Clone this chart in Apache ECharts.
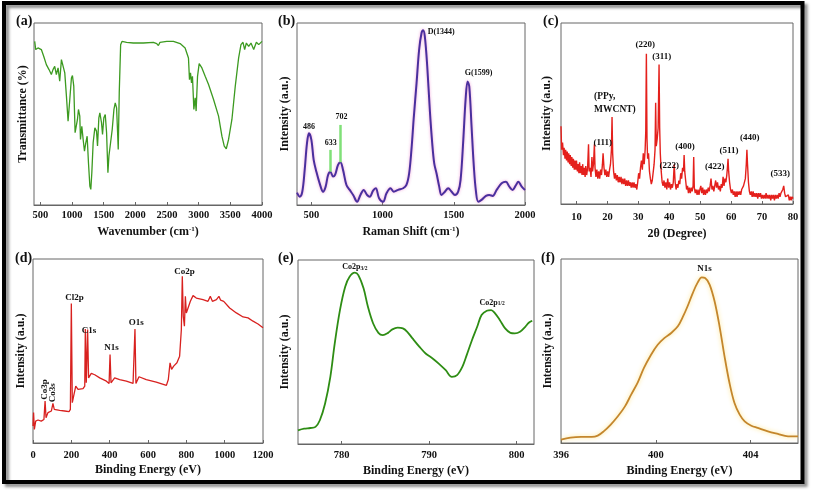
<!DOCTYPE html>
<html><head><meta charset="utf-8">
<script src="https://cdn.jsdelivr.net/npm/echarts@6/dist/echarts.min.js"></script>
<style>html,body{margin:0;padding:0;background:#fff}#c{width:813px;height:493px}</style>
</head><body><div id="c"></div>
<script>
// (a) FTIR
const ftirWave = [411,427,463,516,553,595,637,674,700,727,753,780,806,833,859,886,912,938,965,991,1007,1028,1049,1070,1086,1102,1123,1134,1155,1176,1197,1218,1239,1260,1282,1297,1313,1334,1361,1387,1403,1424,1440,1466,1482,1503,1525,1546,1567,1583,1609,1635,1662,1683,1704,1720,1730,1746,1768,1789,1862,1968,2126,2285,2338,2364,2390,2496,2602,2707,2786,2839,2855,2871,2887,2902,2924,2945,2960,2982,3008,3051,3103,3156,3235,3314,3367,3404,3436,3472,3525,3578,3631,3668,3700,3726,3753,3790,3826,3869,3911,3948,4000];
const ftirT = [89.9,85.4,86.3,85.4,81.7,77.1,74.4,71.7,74.4,76.2,71.7,75.3,68.0,79.9,79.0,72.6,59.8,46.1,58.0,69.8,71.1,65.3,39.7,39.7,47.0,52.5,48.8,36.0,43.3,36.0,29.6,34.2,37.8,23.2,10.4,8.6,17.7,34.2,42.4,40.6,32.4,47.9,50.6,45.2,38.8,47.9,49.7,39.7,17.7,26.9,34.2,41.5,52.5,56.1,53.4,39.7,30.5,61.6,88.1,89.9,89.4,89.0,89.0,89.4,88.7,87.6,89.4,89.9,89.9,88.7,86.3,80.8,68.9,72.6,67.1,70.7,52.5,58.9,51.6,70.7,77.7,75.3,70.7,66.2,58.0,48.8,37.8,32.4,30.9,36.0,47.0,65.3,80.8,88.1,89.4,85.4,89.0,87.2,89.0,85.4,89.4,88.1,89.9];
const ftirTicks = [500,1000,1500,2000,2500,3000,3500,4000];

// (b) Raman
const ramanShift = [400,419,437,454,470,484,501,517,536,559,583,601,618,634,653,667,688,705,723,747,770,794,822,845,868,892,911,934,953,976,1004,1028,1056,1079,1110,1145,1168,1187,1203,1220,1239,1257,1274,1285,1297,1314,1332,1349,1363,1379,1398,1414,1438,1461,1485,1508,1531,1548,1567,1583,1597,1609,1625,1641,1656,1672,1695,1726,1749,1773,1801,1836,1866,1890,1913,1937,1953,1977,2000];
const ramanI = [6.8,4.6,7.3,19.3,33.9,39.4,35.8,24.8,18.3,11.9,7.3,10.1,16.5,18.3,15.6,16.5,22.0,23.5,19.3,11.0,8.3,5.5,1.8,5.5,8.3,5.5,4.6,7.9,9.2,3.7,1.8,6.4,9.2,7.3,8.3,9.2,11.0,17.4,30.3,48.6,67.0,85.3,94.5,96.0,92.7,76.1,52.3,33.9,22.9,17.4,10.1,5.5,7.3,9.2,7.3,5.5,7.3,13.8,35.8,57.8,67.9,65.1,43.1,21.1,7.3,1.8,2.8,5.0,5.5,5.0,8.3,11.9,12.8,10.1,8.3,11.0,12.8,10.1,8.3];
const ramanTicks = [500,1000,1500,2000];
const ramanLabels = [[484,43.1,'486'],[636.6,33.9,'633'],[711.5,48.3,'702'],[1412,95,'D(1344)'],[1674,72.8,'G(1599)']];
const ramanMarks = [[636.6,18.3,30.3],[707,23.5,44]];

// (c) XRD
const xrdAngle = [5.0,5.2,5.5,5.8,6.0,6.3,6.5,6.8,7.0,7.3,7.5,7.8,8.0,8.3,8.5,8.8,9.0,9.3,9.5,9.8,10.0,10.3,10.5,10.8,11.0,11.3,11.5,11.8,12.0,12.3,12.5,12.8,13.0,13.3,13.6,13.9,14.1,14.4,14.7,15.0,15.2,15.5,15.8,16.0,16.3,16.6,16.9,17.2,17.5,17.8,18.1,18.4,18.6,18.9,19.2,19.5,19.8,20.1,20.4,20.7,21.0,21.3,21.5,21.7,22.0,22.3,22.6,22.9,23.2,23.5,23.8,24.1,24.4,24.7,25.0,25.3,25.6,25.9,26.2,26.5,26.8,27.1,27.4,27.7,28.0,28.3,28.6,28.9,29.2,29.5,29.8,30.1,30.4,30.7,31.0,31.3,31.6,31.9,32.2,32.4,32.6,32.8,33.0,33.3,33.6,33.9,34.2,34.5,34.8,35.1,35.4,35.6,35.8,36.1,36.4,36.7,36.9,37.1,37.4,37.7,38.0,38.3,38.6,38.9,39.2,39.5,39.8,40.1,40.4,40.7,41.0,41.3,41.6,41.9,42.2,42.5,42.8,43.1,43.4,43.7,44.0,44.3,44.6,44.8,45.0,45.3,45.6,45.9,46.2,46.5,46.8,47.1,47.4,47.7,47.9,48.1,48.4,48.7,49.0,49.3,49.6,49.9,50.2,50.5,50.8,51.1,51.4,51.7,52.0,52.3,52.6,52.9,53.2,53.5,53.8,54.1,54.4,54.7,55.0,55.3,55.6,55.9,56.2,56.5,56.8,57.1,57.4,57.7,58.0,58.3,58.6,58.8,59.0,59.2,59.5,59.8,60.1,60.4,60.7,61.0,61.3,61.6,61.9,62.2,62.5,62.8,63.1,63.4,63.7,64.0,64.3,64.6,64.9,65.1,65.3,65.6,65.9,66.2,66.5,66.8,67.1,67.4,67.7,68.0,68.3,68.6,68.9,69.2,69.5,69.8,70.1,70.4,70.7,71.0,71.3,71.6,71.9,72.2,72.5,72.8,73.1,73.4,73.7,74.0,74.3,74.6,74.9,75.2,75.5,75.8,76.1,76.4,76.7,77.0,77.3,77.6,77.9,78.2,78.5,78.8,79.1,79.4,79.7,80.0];
const xrdI = [43,30,34,27,31,25,30,24,29,23,28,22,27,21,26,20,25,19,24,19,24,18,22,17,23,17,21,16,22,16,20,15,21,16,20,33,18,20,15,26,18,22,33,20,15,19,14,18,14,19,16,22,28,20,16,19,15,18,15,19,22,30,48,28,18,14,17,13,16,12,15,12,15,11,14,11,14,10,13,10,13,10,12,9,12,9,12,9,11,8,12,17,14,20,24,19,28,22,30,40,83,36,25,28,18,14,11,13,12,22,30,56,32,36,42,77,42,28,18,12,10,13,9,12,8,14,9,12,8,11,9,12,22,12,8,11,9,13,11,17,14,20,18,27,18,13,8,10,6,9,6,9,7,10,26,9,6,8,5,8,5,8,10,6,9,5,8,5,8,6,9,7,10,14,8,10,7,10,13,9,12,8,10,7,11,9,15,10,14,12,16,20,25,18,12,8,6,8,5,7,4,7,4,7,5,7,5,8,7,10,9,14,22,30,22,12,7,5,7,4,7,4,6,4,6,3,6,4,6,3,5,3,5,3,6,3,5,3,5,2,5,3,5,2,5,3,5,3,6,4,6,5,8,10,6,4,5,3,5,2,4,2,4,3];
const xrdTicks = [10,20,30,40,50,60,70,80];
const xrdLabels = [[32.2,88.0,'(220)'],[37.6,81.2,'(311)'],[18.5,33.9,'(111)'],[45.1,31.7,'(400)'],[40.0,21.2,'(222)'],[54.7,20.7,'(422)'],[59.3,29.3,'(511)'],[66.0,36.9,'(440)'],[75.9,17.0,'(533)']];
const xrdLeftLabel = [15.7,55.7,'(PPy,\nMWCNT)'];

// (d) XPS survey
const surveyBE = [0,3,7,14,26,43,57,63,68,78,96,104,111,139,165,188,195,200,205,212,223,235,261,270,273,278,285,290,304,322,348,383,397,402,407,426,452,487,522,529,532,537,553,591,643,696,706,715,723,734,751,765,774,779,784,790,795,800,809,821,835,852,887,913,925,936,957,970,979,995,1026,1061,1096,1122,1148,1174,1200];
const surveyI = [9.2,16.5,7.4,11.9,12.5,11.9,12.8,22.8,13.7,16.5,17.4,21.5,18.3,17.7,17.4,17.0,18.3,75.8,21.9,25.5,30.9,29.1,29.5,30.9,62.0,32.7,61.7,35.4,37.8,37.1,35.4,33.6,32.4,48.1,32.7,35.4,34.5,33.6,32.4,31.8,62.0,32.4,36.0,34.5,33.1,31.3,34.5,43.6,40.0,41.8,43.6,47.2,61.7,90.6,68.9,63.5,79.7,70.7,73.4,77.0,80.1,78.8,77.9,77.0,79.7,77.0,77.9,79.7,77.6,77.0,73.4,70.7,68.5,68.0,66.2,64.7,62.6];
const surveyTicks = [0,200,400,600,800,1000,1200];
const surveyLabels = [[217,78.8,'Cl2p'],[292,60.8,'C1s'],[409,51.7,'N1s'],[539,65.3,'O1s'],[791,93.3,'Co2p']];
const surveyVertLabels = [[59,29.1,'Co3p'],[104,27.3,'Co3s']];

// (e) Co2p
const coBE = [775.0,775.7,776.4,777.0,777.5,778.1,778.7,779.2,779.8,780.4,780.9,781.5,781.9,782.5,783.0,783.6,784.2,784.7,785.3,785.8,786.4,787.0,787.5,788.1,788.9,789.6,790.4,791.1,791.9,792.6,793.2,793.8,794.3,794.9,795.5,796.0,796.6,797.1,797.5,798.1,798.7,799.3,799.8,800.4,801.0,801.4,801.8];
const coI = [7.4,8.3,8.7,9.3,12.9,22.0,36.5,54.6,72.8,85.5,90.9,93.1,91.8,84.6,74.6,65.5,60.4,59.2,60.4,62.3,63.2,62.8,61.0,57.4,52.8,49.2,46.5,43.7,40.1,36.5,37.4,41.9,48.3,56.4,63.7,70.1,72.4,72.8,71.3,67.3,62.8,60.4,60.1,61.0,63.7,65.9,67.0];
const coTicks = [780,790,800];
const coLabels = [[781.5,96.0,'Co2p{sub|3/2}'],[797.2,76.8,'Co2p{sub|1/2}']];

// (f) N1s
const nBE = [396.0,396.4,396.85,397.3,397.55,397.8,398.1,398.4,398.7,398.96,399.24,399.5,399.8,400.08,400.37,400.65,400.93,401.14,401.35,401.56,401.77,401.94,402.08,402.27,402.48,402.69,402.9,403.11,403.32,403.54,403.75,404.03,404.3,404.73,405.15,405.58,406.0];
const nI = [1.8,2.9,3.3,3.3,4.0,6.3,10.0,14.5,19.9,26.3,33.0,40.8,48.0,53.4,57.1,59.8,63.4,68.5,74.6,81.5,87.3,90.0,89.7,86.1,77.0,63.4,47.1,32.6,21.7,15.4,11.8,9.4,8.2,6.3,4.9,3.6,3.6];
const nTicks = [396,400,404];
const nLabels = [[402.06,94.6,'N1s']];

// ---------- build ----------
const SERIF = "'Liberation Serif','DejaVu Serif',serif";
const zip = (a, b) => a.map((v, i) => [v, b[i]]);
const grids = [
  {left:34, top:23, width:228, height:182},
  {left:297, top:23, width:228, height:182},
  {left:561, top:23, width:232, height:181},
  {left:33, top:259, width:230, height:184},
  {left:298, top:260, width:236, height:184},
  {left:561, top:259, width:237, height:184}
];
const supRich = {sup:{fontSize:7, fontWeight:'bold', fontFamily:SERIF, color:'#111', verticalAlign:'top', padding:[0,0,5,0]}};
function xa(gi, min, max, ticks, name, nameGap, margin) {
  return {type:'value', gridIndex:gi, min:min, max:max, name:name, nameLocation:'middle', nameGap:nameGap,
    nameTextStyle:{fontFamily:SERIF, fontWeight:'bold', fontSize:12, color:'#111', rich:supRich},
    axisLine:{show:true, lineStyle:{color:'#666', width:1}},
    axisTick:{show:true, inside:true, length:3, customValues:ticks, lineStyle:{color:'#666'}},
    axisLabel:{customValues:ticks, margin:margin, formatter:v => String(v), fontFamily:SERIF, fontWeight:'bold', fontSize:10.5, color:'#111'},
    splitLine:{show:false}};
}
function ya(gi, name, gap) {
  return {type:'value', gridIndex:gi, min:0, max:100, name:name, nameLocation:'middle', nameGap:gap,
    nameTextStyle:{fontFamily:SERIF, fontWeight:'bold', fontSize:12, color:'#111'},
    axisLine:{show:false}, axisTick:{show:false}, axisLabel:{show:false}, splitLine:{show:false}};
}
function ann(list, size, extra) {
  return list.map(p => ({coord:[p[0], p[1]], symbol:'circle', symbolSize:0.1, itemStyle:{color:'rgba(0,0,0,0)'},
    label:Object.assign({show:true, position:'inside', formatter:p[2], fontFamily:SERIF, fontWeight:'bold', fontSize:size, color:'#111'}, extra || {})}));
}
function line(gi, data, color, width, smooth, extra) {
  return Object.assign({type:'line', xAxisIndex:gi, yAxisIndex:gi, data:data, showSymbol:false, symbol:'none', smooth:smooth,
    lineStyle:{color:color, width:width}, silent:true}, extra || {});
}

const subRich = {sub:{fontSize:5.5, fontWeight:'bold', fontFamily:SERIF, color:'#111', verticalAlign:'bottom'}};

const option = {
  animation:false,
  backgroundColor:'#fff',
  grid: grids.map(g => Object.assign({show:true, borderColor:'#666', borderWidth:1, backgroundColor:'transparent'}, g)),
  xAxis:[
    xa(0, 400, 4000, ftirTicks, 'Wavenumber (cm{sup|-1})', 21, 5),
    xa(1, 400, 2000, ramanTicks, 'Raman Shift (cm{sup|-1})', 21, 5),
    xa(2, 5, 80, xrdTicks, '2θ (Degree)', 24, 8),
    xa(3, 0, 1200, surveyTicks, 'Binding Energy (eV)', 21, 7),
    xa(4, 775, 802, coTicks, 'Binding Energy (eV)', 21, 6),
    xa(5, 396, 406, nTicks, 'Binding Energy (eV)', 22, 7)
  ],
  yAxis:[
    ya(0, 'Transmittance (%)', 5),
    ya(1, 'Intensity (a.u.)', 6),
    ya(2, 'Intensity (a.u.)', 8),
    ya(3, 'Intensity (a.u.)', 6),
    ya(4, 'Intensity (a.u.)', 7),
    ya(5, 'Intensity (a.u.)', 7)
  ],
  series:[
    line(0, zip(ftirWave, ftirT), '#3c9a20', 1.3, false),
    line(1, zip(ramanShift, ramanI), '#4a2f9e', 2, 0.35, {
      lineStyle:{color:'#4a2f9e', width:2, shadowColor:'rgba(235,120,200,0.7)', shadowBlur:3},
      markLine:{silent:true, symbol:'none', label:{show:false}, lineStyle:{color:'#80e078', width:2.5, type:'solid'},
        data: ramanMarks.map(m => [{coord:[m[0], m[1]]}, {coord:[m[0], m[2]]}])},
      markPoint:{silent:true, data: ann(ramanLabels, 8)}
    }),
    line(2, zip(xrdAngle, xrdI), '#e4201c', 1.4, false, {
      markPoint:{silent:true, data: ann(xrdLabels, 9).concat(ann([xrdLeftLabel], 9.5, {align:'left', lineHeight:13}))}
    }),
    line(3, zip(surveyBE, surveyI), '#d8211f', 1.3, false, {
      markPoint:{silent:true, data: ann(surveyLabels, 9).concat(ann(surveyVertLabels, 9, {rotate:90}))}
    }),
    line(4, zip(coBE, coI), '#2e8d14', 1.8, 0.35, {
      markPoint:{silent:true, data: ann(coLabels, 8, {rich:subRich})}
    }),
    line(5, zip(nBE, nI), '#c4862c', 1.8, 0.35, {
      lineStyle:{color:'#c4862c', width:1.8, shadowColor:'rgba(255,225,120,0.9)', shadowBlur:4},
      markPoint:{silent:true, data: ann(nLabels, 9)}
    })
  ],
  graphic:[
    {type:'rect', silent:true, z:-1, shape:{x:4, y:3, width:798.5, height:479},
      style:{fill:'none', stroke:'#000', lineWidth:4, shadowBlur:3, shadowOffsetX:3, shadowOffsetY:3, shadowColor:'rgba(0,0,0,0.45)'}},
    {type:'text', silent:true, style:{text:'(a)', x:16, y:14, font:"bold 14px " + SERIF, fill:'#111'}},
    {type:'text', silent:true, style:{text:'(b)', x:278, y:14, font:"bold 14px " + SERIF, fill:'#111'}},
    {type:'text', silent:true, style:{text:'(c)', x:543, y:14, font:"bold 14px " + SERIF, fill:'#111'}},
    {type:'text', silent:true, style:{text:'(d)', x:15, y:251, font:"bold 14px " + SERIF, fill:'#111'}},
    {type:'text', silent:true, style:{text:'(e)', x:278, y:251, font:"bold 14px " + SERIF, fill:'#111'}},
    {type:'text', silent:true, style:{text:'(f)', x:541, y:251, font:"bold 14px " + SERIF, fill:'#111'}}
  ]
};
const chart = echarts.init(document.getElementById('c'), null, {renderer:'canvas', width:813, height:493});
chart.setOption(option);
</script>
</body></html>
